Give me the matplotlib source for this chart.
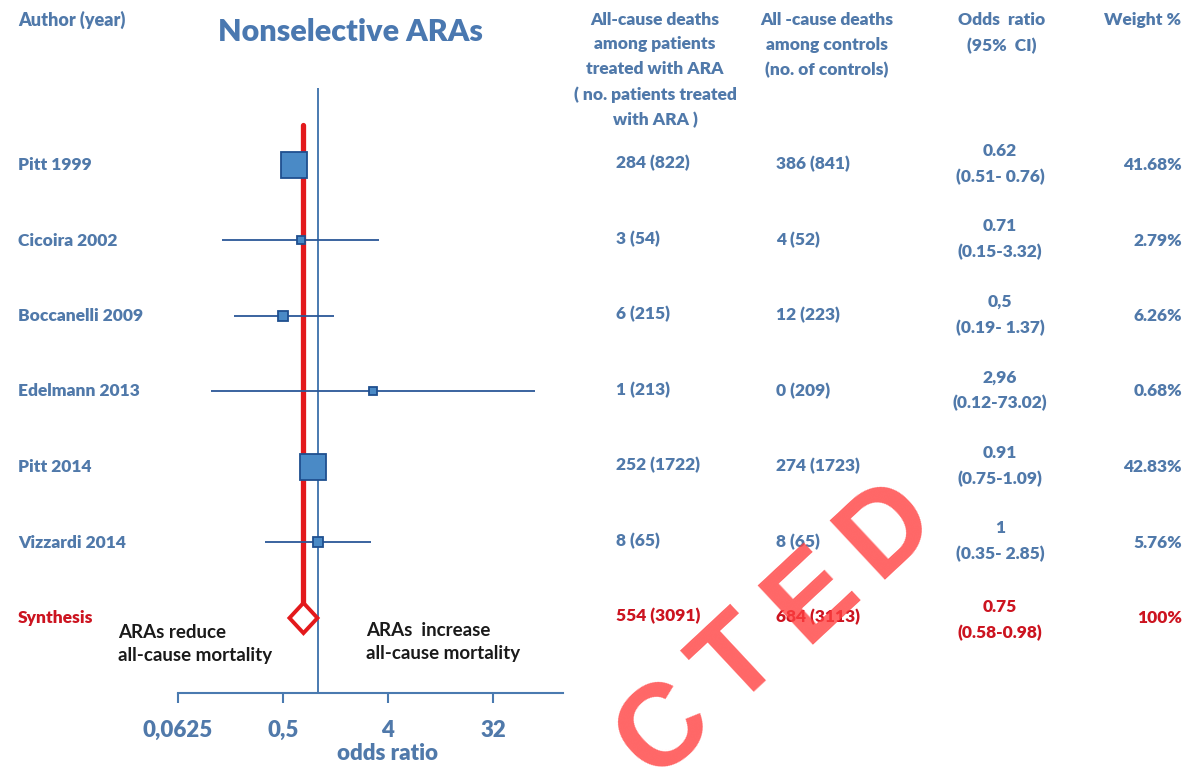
import matplotlib
matplotlib.use('Agg')
import matplotlib.pyplot as plt
from matplotlib.ticker import NullLocator
import numpy as np

# forest plot of nonselective ARAs, values
studies = ['Pitt 1999', 'Cicoira 2002', 'Boccanelli 2009', 'Edelmann 2013', 'Pitt 2014', 'Vizzardi 2014']
or_val = [0.62, 0.71, 0.5, 2.96, 0.91, 1.0]
ci_low = [0.51, 0.15, 0.19, 0.12, 0.75, 0.35]
ci_high = [0.76, 3.32, 1.37, 73.02, 1.09, 2.85]
weights = [41.68, 2.79, 6.26, 0.68, 42.83, 5.76]
treated = ['284 (822)', '3 (54)', '6 (215)', '1 (213)', '252 (1722)', '8 (65)']
controls = ['386 (841)', '4 (52)', '12 (223)', '0 (209)', '274 (1723)', '8 (65)']
or_txt = ['0.62', '0.71', '0,5', '2,96', '0.91', '1']
ci_txt = ['(0.51- 0.76)', '(0.15-3.32)', '(0.19- 1.37)', '(0.12-73.02)', '(0.75-1.09)', '(0.35- 2.85)']
weight_txt = ['41.68%', '2.79%', '6.26%', '0.68%', '42.83%', '5.76%']

synth_name = 'Synthesis'
synth_or = 0.75
synth_treated = '554 (3091)'
synth_controls = '684 (3113)'
synth_or_txt = '0.75'
synth_ci_txt = '(0.58-0.98)'
synth_weight = '100%'

xticks = [0.0625, 0.5, 4, 32]
xticklabels = ['0,0625', '0,5', '4', '32']

stamp = 'CTED'

BLUE_TXT = '#5079aa'
BLUE_LINE = '#4a7ab0'
RED = '#e3191c'
RED_TXT = '#cc1420'
FONT = 'Lato'

W, H = 1192, 777
fig = plt.figure(figsize=(W/100, H/100), dpi=100)

def px(x, y):
    #pixel position (from top-left) -> figure fraction
    return x/W, 1 - y/H

def put(x, y, s, **kw):
    kw.setdefault('family', FONT)
    kw.setdefault('fontweight', 'heavy')
    kw.setdefault('color', BLUE_TXT)
    kw.setdefault('fontsize', 12.5)
    kw.setdefault('va', 'center')
    fig.text(*px(x, y), s, **kw)

#plot area: x is log2 odds ratio, y is row index (row 0 at 165px, 75.5px per row)
ax = fig.add_axes([150/W, 0, 430/W, 1])
ax.patch.set_visible(False)
ax.set_xscale('log', base=2)
ax.set_xlim(2**-4.8, 2**7.486)
ax.set_ylim(8.106, -2.185)
rows = np.arange(len(studies))
srow = len(studies)

ax.vlines(1, -1.02, 7, color=BLUE_LINE, lw=1.4, zorder=1)
ax.plot([synth_or, synth_or], [-0.53, 5.8], color=RED, lw=3.8, solid_capstyle='round', zorder=2)
ax.hlines(rows, ci_low, ci_high, color='#2b5797', lw=1.3, zorder=3)
for i in rows:
    ms = (7 + 0.46*weights[i]) / 1.389
    ax.plot(or_val[i], i, 's', ms=ms, mfc='#4a8ac6', mec='#1f4f8f', mew=1.3, zorder=4)

f = 2**0.4
ax.fill([synth_or/f, synth_or, synth_or*f, synth_or], [srow, srow-0.2, srow, srow+0.2],
        facecolor='white', edgecolor=RED, lw=2.8, zorder=5)

#bottom axis
for s in ['top', 'right', 'left']:
    ax.spines[s].set_visible(False)
ax.spines['bottom'].set_position(('data', 7))
ax.spines['bottom'].set_bounds(1/16, 128)
ax.spines['bottom'].set_color(BLUE_LINE)
ax.spines['bottom'].set_linewidth(1.5)
ax.set_yticks([])
ax.set_xticks(xticks)
ax.set_xticklabels(xticklabels)
ax.xaxis.set_minor_locator(NullLocator())
ax.tick_params(axis='x', length=7, width=1.5, color=BLUE_LINE, labelsize=16, labelcolor=BLUE_TXT, pad=12)
for lab in ax.get_xticklabels():
    lab.set_fontweight('heavy')
    lab.set_family(FONT)

put(388, 754, 'odds ratio', ha='center', fontsize=16)

#headers
put(18, 20, 'Author (year)', fontsize=13)
put(350, 32, 'Nonselective ARAs', ha='center', fontsize=22, color='#4a78b0')
put(655, 70, 'All-cause deaths\namong patients\ntreated with ARA\n( no. patients treated\nwith ARA )',
    ha='center', linespacing=1.68)
put(827, 45, 'All -cause deaths\namong controls\n(no. of controls)', ha='center', linespacing=1.68)
put(1002, 33, 'Odds  ratio\n(95%  CI)', ha='center', linespacing=1.68)
put(1181, 20, 'Weight %', ha='right')

#table rows
for i in rows:
    y = 165 + 75.5*i
    put(18, y, studies[i])
    put(616, y - 2, treated[i])
    put(776, y - 1, controls[i])
    put(1000, y - 1, or_txt[i] + '\n' + ci_txt[i], ha='center', linespacing=1.72)
    put(1182, y, weight_txt[i], ha='right')

y = 165 + 75.5*srow
put(18, y, synth_name, color=RED_TXT)
put(616, y - 2, synth_treated, color=RED_TXT)
put(776, y - 1, synth_controls, color=RED_TXT)
put(1000, y + 2, synth_or_txt + '\n' + synth_ci_txt, ha='center', linespacing=1.72, color=RED_TXT)
put(1182, y, synth_weight, ha='right', color=RED_TXT)

put(118, 644, 'ARAs reduce\nall-cause mortality', color='#1a1a1a', fontsize=13.5,
    fontweight='bold', linespacing=1.45)
put(366, 642, 'ARAs  increase\nall-cause mortality', color='#1a1a1a', fontsize=13.5,
    fontweight='bold', linespacing=1.45)

#red stamp over the picture, one letter at a time along a 43 degree line
for k, ch in enumerate(stamp):
    cx = 665 + 74*k
    cy = 730 - 67*k
    fig.text(*px(cx, cy), ch, rotation=43, rotation_mode='anchor', fontsize=84,
             family='Liberation Sans', fontweight='bold', color='#ff4040', alpha=0.8,
             ha='center', va='center', zorder=10)

plt.savefig('out.png', dpi=100)
